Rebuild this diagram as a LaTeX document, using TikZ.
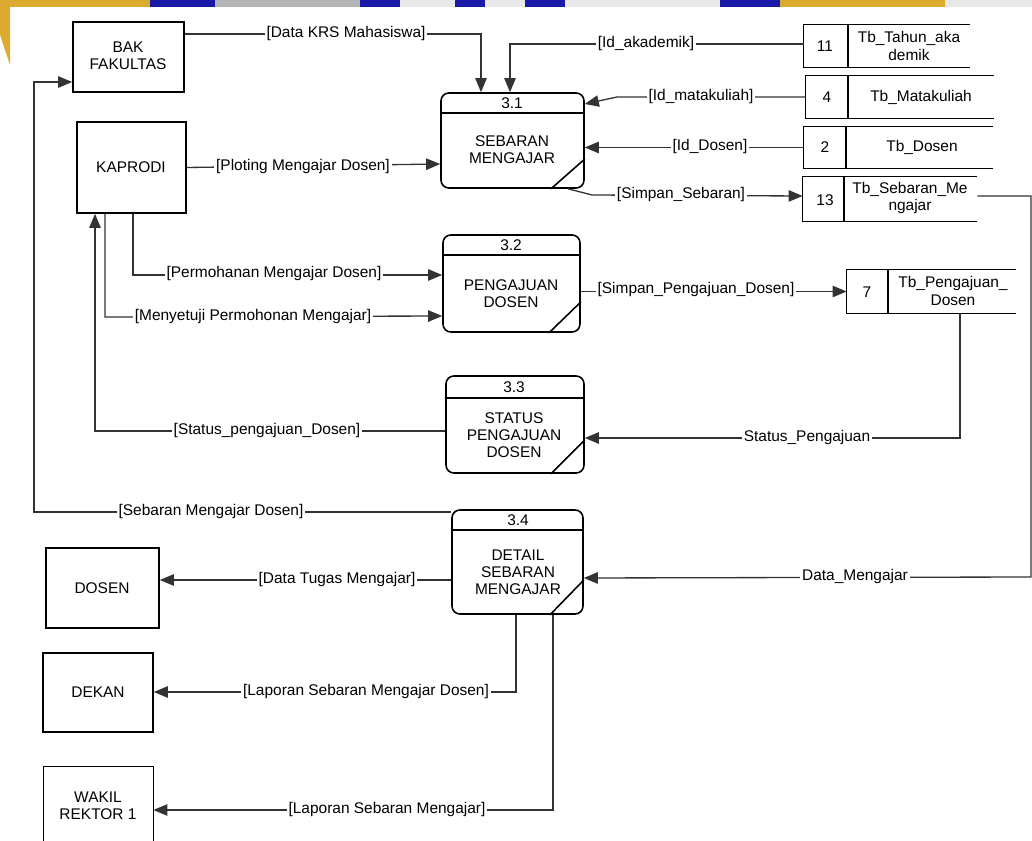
\documentclass[tikz,border=0pt]{standalone}
\usepackage{fontspec}
\setmainfont{Liberation Sans}
\usetikzlibrary{arrows.meta,fit}
\definecolor{wmyellow}{HTML}{DDAA30}
\definecolor{wmblue}{HTML}{1A1AA8}
\definecolor{wmgray}{HTML}{B5B5B5}
\definecolor{wmlight}{HTML}{E8E8E8}
\definecolor{flowgray}{HTML}{333333}
\begin{document}
\begin{tikzpicture}[x=0.02cm,y=-0.02cm,
  font=\fontsize{8.8}{9.8}\selectfont,
  ent/.style={draw, line width=0.9pt, inner sep=0pt},
  proc/.style={draw, line width=0.9pt, rounded corners=4.5pt, inner sep=0pt},
  ptext/.style={align=center, inner sep=0pt},
  store/.style={inner sep=0pt},
  sline/.style={line width=0.9pt},
  flow/.style={line width=0.75pt, draw=flowgray, -{Triangle[length=8pt,width=6.5pt]}},
  lbl/.style={fill=white, inner sep=1pt},
]
\useasboundingbox (0,0) rectangle (1032,841);
% watermark strip
\fill[wmyellow] (0,0) rectangle (150,7);
\fill[wmblue] (150,0) rectangle (215,7);
\fill[wmgray] (215,0) rectangle (360,7);
\fill[wmblue] (360,0) rectangle (400,7);
\fill[wmlight] (400,0) rectangle (455,7);
\fill[wmblue] (455,0) rectangle (485,7);
\fill[wmlight] (485,0) rectangle (525,7);
\fill[wmblue] (525,0) rectangle (565,7);
\fill[wmlight] (565,0) rectangle (720,7);
\fill[wmblue] (720,0) rectangle (780,7);
\fill[wmyellow] (780,0) rectangle (945,7);
\fill[wmlight] (945,0) rectangle (1032,7);
\fill[wmyellow] (0,7) -- (10,7) -- (10,65) -- (0,35) -- cycle;

% external entities
\node[ent, fit={(73,22)(184,92)}] (bak) {};
\node[ptext] (bakt) at (128,56) {BAK\\FAKULTAS};
\node[ent, fit={(77,122)(186,213)}] (kap) {};
\node[ptext] (kapt) at (131,167) {KAPRODI};
\node[ent, fit={(46,548)(159,628)}] (dosen) {};
\node[ptext] (dosent) at (102,588) {DOSEN};
\node[ent, fit={(43,653)(153,732)}] (dekan) {};
\node[ptext] (dekant) at (98,692) {DEKAN};
\node[inner sep=0pt, fit={(44,767)(153,841)}] (wakil) {};
\draw[sline] (wakil.south west) -- (wakil.north west) -- (wakil.north east) -- (wakil.south east);
\node[ptext] (wakilt) at (98,806) {WAKIL\\REKTOR 1};

% processes
\node[proc, fit={(441,93)(584,188)}] (p31) {};
\draw[sline] (p31.west |- 0,113) -- (p31.east |- 0,113);
\draw[sline] (p31.south -| 551,0) -- (p31.east |- 0,159);
\node[ptext] (p31n) at (512,103) {3.1};
\node[ptext] (p31t) at (512,150) {SEBARAN\\MENGAJAR};

\node[proc, fit={(443,235)(580,332)}] (p32) {};
\draw[sline] (p32.west |- 0,255) -- (p32.east |- 0,255);
\draw[sline] (p32.south -| 549,0) -- (p32.east |- 0,302);
\node[ptext] (p32n) at (511,245) {3.2};
\node[ptext] (p32t) at (511,294) {PENGAJUAN\\DOSEN};

\node[proc, fit={(446,376)(584,473)}] (p33) {};
\draw[sline] (p33.west |- 0,398) -- (p33.east |- 0,398);
\draw[sline] (p33.south -| 551,0) -- (p33.east |- 0,440);
\node[ptext] (p33n) at (514,387) {3.3};
\node[ptext] (p33t) at (514,435) {STATUS\\PENGAJUAN\\DOSEN};

\node[proc, fit={(452,510)(583,614)}] (p34) {};
\draw[sline] (p34.west |- 0,530) -- (p34.east |- 0,530);
\draw[sline] (p34.south -| 550,0) -- (p34.east |- 0,580);
\node[ptext] (p34n) at (518,520) {3.4};
\node[ptext] (p34t) at (518,572) {DETAIL\\SEBARAN\\MENGAJAR};

% data stores
\node[store, fit={(804,25)(970,67)}] (s11) {};
\draw[sline] (s11.north east) -- (s11.north west) -- (s11.south west) -- (s11.south east);
\draw[sline] (s11.north -| 848,0) -- (s11.south -| 848,0);
\node (s11n) at (825,46) {11};
\node[ptext] (s11t) at (909,46) {Tb\_Tahun\_aka\\demik};

\node[store, fit={(806,76)(994,118)}] (s4) {};
\draw[sline] (s4.north east) -- (s4.north west) -- (s4.south west) -- (s4.south east);
\draw[sline] (s4.north -| 848,0) -- (s4.south -| 848,0);
\node (s4n) at (827,97) {4};
\node[ptext] (s4t) at (921,97) {Tb\_Matakuliah};

\node[store, fit={(804,127)(993,168)}] (s2) {};
\draw[sline] (s2.north east) -- (s2.north west) -- (s2.south west) -- (s2.south east);
\draw[sline] (s2.north -| 846,0) -- (s2.south -| 846,0);
\node (s2n) at (825,147) {2};
\node[ptext] (s2t) at (922,147) {Tb\_Dosen};

\node[store, fit={(803,177)(977,221)}] (s13) {};
\draw[sline] (s13.north east) -- (s13.north west) -- (s13.south west) -- (s13.south east);
\draw[sline] (s13.north -| 844,0) -- (s13.south -| 844,0);
\node (s13n) at (825,200) {13};
\node[ptext] (s13t) at (910,198) {Tb\_Sebaran\_Me\\ngajar};

\node[store, fit={(847,270)(1016,313)}] (s7) {};
\draw[sline] (s7.north east) -- (s7.north west) -- (s7.south west) -- (s7.south east);
\draw[sline] (s7.north -| 888,0) -- (s7.south -| 888,0);
\node (s7n) at (867,292) {7};
\node[ptext] (s7t) at (953,291) {Tb\_Pengajuan\_\\Dosen};

% flows
\draw[flow] (bak.east |- 0,34) -- (481,34) -- (p31.north -| 481,0);
\draw[flow] (s11.west |- 0,44) -- (510,44) -- (p31.north -| 510,0);
\draw[flow] (s4.west) -- (617,97) -- (p31.east |- 0,104);
\draw[flow] (s2.west) -- (p31.east |- s2.west);
\draw[flow] (p31.south -| 568,0) -- (592,195) -- (s13.west |- 0,196);
\draw[flow] (kap.east) -- (p31.west |- 0,164);
\draw[flow] (kap.south -| 133,0) -- (133,275) -- (p32.west |- 0,275);
\draw[flow] (kap.south -| 105,0) -- (105,317) -- (p32.west |- 0,316);
\draw[flow] (p33.west |- 0,431) -- (95,431) -- (kap.south -| 95,0);
\draw[flow] (s7.south -| 960,0) -- (960,438) -- (p33.east |- 0,438);
\draw[flow] (p32.east |- s7.west) -- (s7.west);
\draw[flow] (p34.west |- 0,512) -- (34,512) -- (34,82) -- (bak.west |- 0,82);
\draw[flow] (p34.west |- 0,580) -- (dosen.east |- 0,580);
\draw[flow] (p34.south -| 516,0) -- (516,692) -- (dekan.east |- 0,692);
\draw[flow] (p34.south -| 553,0) -- (553,810) -- (wakil.east |- 0,810);
\draw[flow] (s13.east |- 0,196) -- (1031,196) -- (1031,577) -- (p34.east |- 0,578);

% labels
\node[lbl] (l1) at (346,34) {[Data KRS Mahasiswa]};
\node[lbl] (l2) at (646,44) {[Id\_akademik]};
\node[lbl] (l3) at (701,97) {[Id\_matakuliah]};
\node[lbl] (l4) at (710,147) {[Id\_Dosen]};
\node[lbl] (l5) at (681,195) {[Simpan\_Sebaran]};
\node[lbl] (l6) at (303,167) {[Ploting Mengajar Dosen]};
\node[lbl] (l7) at (274,274) {[Permohanan Mengajar Dosen]};
\node[lbl] (l8) at (253,317) {[Menyetuji Permohonan Mengajar]};
\node[lbl] (l9) at (267,431) {[Status\_pengajuan\_Dosen]};
\node[lbl] (l10) at (807,438) {Status\_Pengajuan};
\node[lbl] (l11) at (696,290) {[Simpan\_Pengajuan\_Dosen]};
\node[lbl] (l12) at (211,512) {[Sebaran Mengajar Dosen]};
\node[lbl] (l13) at (337,580) {[Data Tugas Mengajar]};
\node[lbl] (l14) at (366,692) {[Laporan Sebaran Mengajar Dosen]};
\node[lbl] (l15) at (387,810) {[Laporan Sebaran Mengajar]};
\node[lbl] (l16) at (855,577) {Data\_Mengajar};
\end{tikzpicture}
\end{document}
